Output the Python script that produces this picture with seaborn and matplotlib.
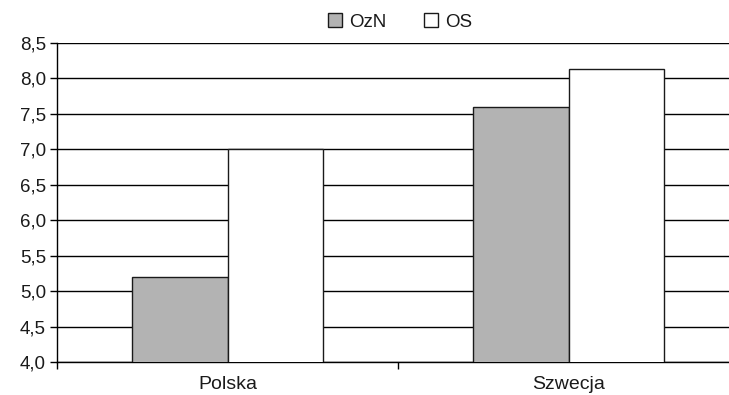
import numpy as np
import pandas as pd
import matplotlib
matplotlib.use('Agg')
import matplotlib.pyplot as plt
import seaborn as sns
from matplotlib.ticker import FixedLocator, FuncFormatter

# --- DATA ---
countries = ['Polska', 'Szwecja']
series_names = ['OzN', 'OS']
ozn_values = [5.2, 7.6]
os_values = [7.0, 8.14]
y_ticks = [4.0, 4.5, 5.0, 5.5, 6.0, 6.5, 7.0, 7.5, 8.0, 8.5]

df = pd.DataFrame({
    'kraj': countries * 2,
    'seria': [series_names[0]] * 2 + [series_names[1]] * 2,
    'wartosc': ozn_values + os_values,
})

sns.set_theme(style='white')
plt.rcParams['font.family'] = ['Liberation Sans', 'DejaVu Sans']

fig = plt.figure(figsize=(7.29, 3.95), dpi=100)
# axes run past the right edge of the figure, as in the cropped original
ax = fig.add_axes([57 / 729, 33 / 395, 682 / 729, 319 / 395])

palette = {'OzN': '#b3b3b3', 'OS': '#ffffff'}
sns.barplot(data=df, x='kraj', y='wartosc', hue='seria', order=countries,
            hue_order=series_names, palette=palette, width=0.563,
            edgecolor='#1a1a1a', linewidth=1.0, saturation=1, ax=ax,
            legend=False, zorder=3)

ax.set_ylim(4.0, 8.5)
ax.set_xlim(-0.5, 1.5)
ax.set_yticks(y_ticks)
ax.yaxis.set_major_formatter(FuncFormatter(lambda v, p: f'{v:.1f}'.replace('.', ',')))
ax.yaxis.grid(True, color='black', linewidth=1.0)
ax.set_axisbelow(True)

# category separators on x axis
ax.xaxis.set_minor_locator(FixedLocator([-0.5, 0.5, 1.5]))
ax.tick_params(axis='x', which='major', length=0, labelsize=14, pad=10, colors='#1a1a1a')
ax.tick_params(axis='x', which='minor', length=5, width=1, color='black', direction='out', bottom=True)
ax.tick_params(axis='y', length=5, width=1, color='black', direction='out', left=True,
               labelsize=13.5, pad=3, colors='#1a1a1a')

for side in ['top', 'right']:
    ax.spines[side].set_visible(False)
for side in ['left', 'bottom']:
    ax.spines[side].set_color('black')
    ax.spines[side].set_linewidth(1.0)

ax.set_xlabel('')
ax.set_ylabel('')

handles = [plt.Rectangle((0, 0), 1, 1, facecolor=palette[s], edgecolor='#1a1a1a', linewidth=1.0)
           for s in series_names]
leg = fig.legend(handles, series_names, loc='center', bbox_to_anchor=(400 / 729, 1 - 22 / 395),
                 ncol=2, frameon=False, fontsize=13.5, handlelength=0.75, handleheight=0.75,
                 handletextpad=0.4, columnspacing=2.0)
for t in leg.get_texts():
    t.set_color('#1a1a1a')

fig.savefig('out.png', dpi=100)
